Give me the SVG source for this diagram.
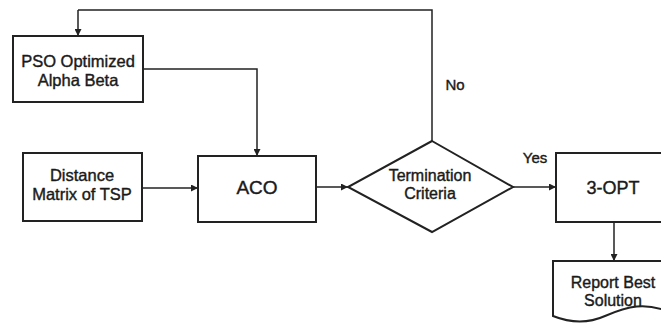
<svg xmlns="http://www.w3.org/2000/svg" width="661" height="326" viewBox="0 0 661 326">
<defs>
<marker id="ah" viewBox="0 0 10 10" refX="10" refY="5" markerWidth="7" markerHeight="7" markerUnits="userSpaceOnUse" orient="auto">
<path d="M0,0 L10,5 L0,10 z" fill="#222"/>
</marker>
<style>
.box{fill:#fff;stroke:#222;stroke-width:2}
.ln{fill:none;stroke:#222;stroke-width:1.5;marker-end:url(#ah)}
.pl{fill:none;stroke:#222;stroke-width:1.5}
text{font-family:"Liberation Sans",Arial,sans-serif;fill:#1a1a1a;stroke:#1a1a1a;stroke-width:0.4;text-anchor:middle}
</style>
</defs>
<rect width="661" height="326" fill="#fff"/>
<g id="connectors">
<path class="pl" d="M432,141 V10 H78"/>
<path class="ln" d="M78,10 V36"/>
<path class="ln" d="M143,69 H257 V156"/>
<path class="ln" d="M142,188 H198"/>
<path class="ln" d="M316,187 H348"/>
<path class="ln" d="M513,187 H556"/>
<path class="ln" d="M614,222 V261"/>
</g>
<g id="pso"><rect class="box" x="13" y="36" width="130" height="66"/>
<text x="78" y="67" font-size="16.5">PSO Optimized</text><text x="78" y="86" font-size="16.5">Alpha Beta</text></g>
<g id="distance"><rect class="box" x="23" y="153" width="119" height="68"/>
<text x="82" y="181" font-size="16.5">Distance</text><text x="82" y="200" font-size="16.5">Matrix of TSP</text></g>
<g id="aco"><rect class="box" x="198" y="156" width="118" height="66"/>
<text x="257" y="194" font-size="19">ACO</text></g>
<g id="termination"><polygon class="box" points="432,141 513,187 432,232 348,187"/>
<text x="430" y="181" font-size="16">Termination</text><text x="430" y="199" font-size="16">Criteria</text></g>
<g id="opt3"><rect class="box" x="556" y="153" width="110" height="69"/>
<text x="613" y="194" font-size="18">3-OPT</text></g>
<g id="report"><path class="box" d="M553,261 H670 V312 C645,302 628,306 605,316 C585,325 568,322 553,316 Z"/>
<text x="613" y="288" font-size="16">Report Best</text><text x="613" y="306" font-size="16">Solution</text></g>
<g id="labels"><text x="455" y="90" font-size="15">No</text><text x="535" y="163" font-size="15">Yes</text></g>
</svg>
